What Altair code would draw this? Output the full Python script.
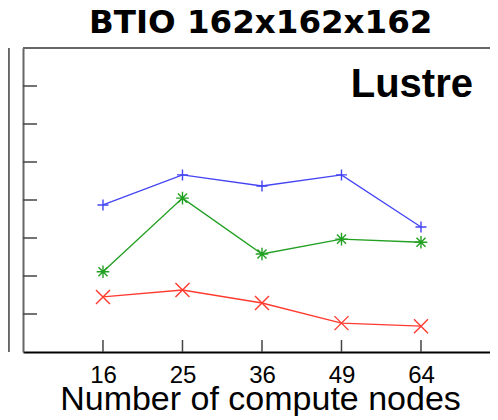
import altair as alt
import pandas as pd

nodes = [16, 25, 36, 49, 64]
series_names = ["s1", "s2", "s3"]
s1_values = [38.7, 46.6, 43.7, 46.6, 32.9]
s2_values = [21.1, 40.5, 25.8, 29.7, 28.9]
s3_values = [14.5, 16.3, 12.9, 7.6, 6.8]
y_ticks = [10, 20, 30, 40, 50, 60, 70]
title_text = ["BTIO 162x162x162"]
panel_label = ["Lustre"]

colors = ["#4444f4", "#22a022", "#ff3b30"]
shapes = [
    "M-1,0L1,0M0,-1L0,1",
    "M-1,0L1,0M0,-1L0,1M-0.72,-0.72L0.72,0.72M-0.72,0.72L0.72,-0.72",
    "M-1,-1L1,1M-1,1L1,-1",
]
sizes = [121, 196, 169]

rows = []
for name, vals in zip(series_names, [s1_values, s2_values, s3_values]):
    for i, (n, v) in enumerate(zip(nodes, vals)):
        rows.append({"idx": i, "nodes": n, "value": v, "series": name})
df = pd.DataFrame(rows)
tick_df = pd.DataFrame({"value": y_ticks})
xtick_df = pd.DataFrame({"idx": list(range(len(nodes)))})

W, H = 467, 304
label_expr = "[" + ",".join("'%d'" % n for n in nodes) + "][datum.value]"

x_enc = alt.X(
    "idx:Q",
    scale=alt.Scale(domain=[-1.006, 4.868], nice=False, zero=False),
    axis=alt.Axis(
        values=list(range(len(nodes))),
        labelExpr=label_expr,
        ticks=False,
        grid=False,
        domainColor="black",
        domainWidth=2,
        labelFont="Liberation Sans",
        labelFontSize=24,
        labelColor="black",
        labelBaseline="alphabetic",
        labelPadding=30,
        title="Number of compute nodes",
        titleFont="Liberation Sans",
        titleFontSize=34,
        titleFontWeight="normal",
        titleColor="black",
        titleBaseline="alphabetic",
        titleY=57,
        titleX=237,
        titleAlign="center",
    ),
)
y_enc = alt.Y(
    "value:Q",
    scale=alt.Scale(domain=[0, 80], nice=False),
    axis=alt.Axis(labels=False, ticks=False, grid=False, domainColor="#666666",
                  domainWidth=2, title=None),
)
color_enc = alt.Color("series:N", scale=alt.Scale(domain=series_names, range=colors), legend=None)

lines = alt.Chart(df).mark_line(strokeWidth=1.4).encode(x=x_enc, y=y_enc, color=color_enc)
points = alt.Chart(df).mark_point(filled=False, strokeWidth=1.4, opacity=1).encode(
    x="idx:Q", y="value:Q", color=color_enc,
    shape=alt.Shape("series:N", scale=alt.Scale(domain=series_names, range=shapes), legend=None),
    size=alt.Size("series:N", scale=alt.Scale(domain=series_names, range=sizes), legend=None),
)
yticks = alt.Chart(tick_df).mark_rule(color="#444444", strokeWidth=1.5).encode(
    y="value:Q", x=alt.value(0), x2=alt.value(14)
)
xticks = alt.Chart(xtick_df).mark_rule(color="#444444", strokeWidth=1.5).encode(
    x="idx:Q", y=alt.value(H - 12), y2=alt.value(H)
)
top_border = alt.Chart(tick_df).mark_rule(color="#666666", strokeWidth=2).encode(
    y=alt.value(0), x=alt.value(0), x2=alt.value(W)
)
left_panel = alt.Chart(tick_df).mark_rule(color="#666666", strokeWidth=1.5).encode(
    x=alt.value(-14.5), y=alt.value(0), y2=alt.value(H)
)
label = alt.Chart(pd.DataFrame({"t": panel_label})).mark_text(
    font="Liberation Sans", fontWeight="bold", fontSize=40, align="right",
    baseline="alphabetic", color="black"
).encode(text="t:N", x=alt.value(450), y=alt.value(49))
title = alt.Chart(pd.DataFrame({"t": title_text})).mark_text(
    font="DejaVu Sans", fontWeight="bold", fontSize=32.5, align="left",
    baseline="alphabetic", color="black"
).encode(text="t:N", x=alt.value(66), y=alt.value(-15))

chart = alt.layer(lines, points, yticks, xticks, top_border, left_panel, label, title).properties(
    width=W, height=H,
    padding={"left": 15, "top": 40, "right": 0, "bottom": 64},
    autosize=alt.AutoSizeParams(type="none"),
).configure_view(stroke=None)

chart.save("out.html", embed_options={"renderer": "svg", "actions": False})
